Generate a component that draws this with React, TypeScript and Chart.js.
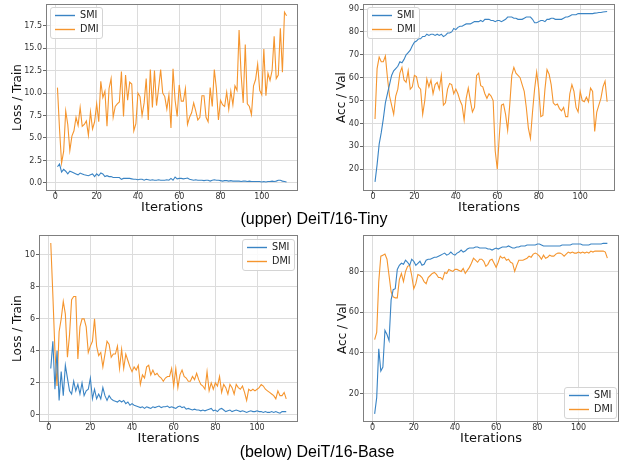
import React, { useEffect, useRef } from 'react';
import { Chart, registerables } from 'chart.js';

Chart.register(...registerables);

const FONT = '"DejaVu Sans", "Liberation Sans", Arial, sans-serif';

// ---------- Data: (upper) DeiT/16-Tiny ----------
const tinyLossSMI = [
  1.8, 2.1, 1.2, 1.5, 1.3, 1.0, 1.3, 1.2, 1.1, 1.0,
  0.9, 1.1, 1.0, 0.9, 0.85, 0.8, 0.9, 1.0, 0.7, 1.0,
  0.8, 1.1, 1.0, 0.7, 0.8, 0.7, 0.7, 0.6, 0.6, 0.6,
  0.6, 0.4, 0.5, 0.5, 0.5, 0.5, 0.45, 0.4, 0.4, 0.35,
  0.4, 0.4, 0.3, 0.4, 0.35, 0.3, 0.35, 0.3, 0.3, 0.35,
  0.3, 0.3, 0.3, 0.35, 0.3, 0.5, 0.3, 0.65, 0.45, 0.5,
  0.5, 0.45, 0.5, 0.55, 0.4, 0.35, 0.3, 0.35, 0.3, 0.3,
  0.3, 0.25, 0.3, 0.3, 0.2, 0.3, 0.35, 0.3, 0.3, 0.25,
  0.2, 0.25, 0.25, 0.2, 0.25, 0.2, 0.2, 0.2, 0.2, 0.15,
  0.2, 0.2, 0.15, 0.2, 0.15, 0.15, 0.15, 0.15, 0.15, 0.1,
  0.15, 0.1, 0.15, 0.15, 0.2, 0.15, 0.2, 0.3, 0.3, 0.2,
  0.15, 0.1,
];
const tinyLossDMI = [
  10.6, 6.0, 2.2, 3.5, 8.0, 6.5, 3.6, 5.2, 5.8, 7.3,
  6.4, 8.4, 6.3, 6.5, 6.9, 5.3, 7.9, 6.0, 6.8, 8.8,
  6.8, 11.3, 9.5, 10.2, 6.3, 10.5, 11.6, 7.3, 8.5, 8.8,
  9.0, 12.4, 7.4, 12.0, 9.2, 11.2, 11.0, 5.8, 6.6, 10.0,
  9.6, 7.5, 8.9, 11.6, 7.0, 12.6, 8.4, 12.5, 8.6, 10.5,
  12.6, 10.0, 9.6, 8.2, 9.8, 6.1, 12.7, 9.2, 7.4, 10.9,
  9.1, 9.1, 10.5, 6.5, 7.3, 7.8, 8.9, 8.0, 7.0, 7.3,
  9.7, 9.7, 7.3, 6.8, 10.6, 8.5, 12.6, 10.5, 7.0, 9.2,
  8.7, 8.5, 10.1, 8.2, 10.2, 8.7, 10.8, 10.3, 17.0, 12.0,
  8.9, 15.4, 8.8, 8.5, 7.6, 10.8, 11.5, 13.2, 10.3, 9.8,
  14.9, 9.7, 12.2, 11.4, 12.5, 16.3, 11.6, 12.0, 17.2, 12.3,
  19.0, 18.6,
];
const tinyAccSMI = [
  14.5, 22, 31, 36, 42, 49, 53, 57, 61, 63,
  64, 65, 67, 66.5, 68, 70, 71, 72, 74, 75.5,
  76, 77, 77, 78, 78, 79, 78.5, 79, 79, 78.5,
  79, 78.5, 79, 78, 78.5, 79.5, 79.5, 80, 81.5, 81,
  82, 82.5, 82.5, 83, 83.5, 83.5, 83.5, 84, 84.5, 84.5,
  84.5, 85, 84.5, 85.5, 85.5, 85.5, 85, 85, 84.5, 85,
  85, 84.5, 85, 85.5, 86.5, 86.5, 86.5, 86, 86, 85.5,
  85.5, 85.5, 86, 86.5, 86.5, 86.5, 85.5, 84, 84, 84.5,
  85, 85, 84.5, 85.5, 85.5, 86, 86, 85.5, 85.5, 85.5,
  85.5, 86, 86.5, 86.5, 87, 87.5, 87.5, 87.5, 88, 88,
  88, 88, 88, 88, 88, 88, 88.2, 88.3, 88.5, 88.5,
  88.7, 88.8, 88.9,
];
const tinyAccDMI = [
  42, 64, 69, 67, 67, 69.5, 60, 52, 48, 44,
  52, 55, 62, 64.5, 59, 58, 63, 55, 56, 61,
  60.5, 56, 55, 44, 50, 59.5, 56, 59, 53, 57,
  58, 55, 61, 48, 49, 55, 57.5, 57, 53, 55,
  53, 50, 48, 41.5, 51, 55.5, 50, 45, 47, 61,
  62, 56.5, 56, 53, 51, 53, 52, 50, 28, 20,
  35, 48, 48.5, 44, 37, 48, 61, 64.5, 62, 61,
  60, 57, 54, 47, 38, 33.5, 45, 55, 62.5, 55,
  43, 43.5, 55, 63.5, 61.5, 57, 49, 48, 48.5, 46.5,
  45.5, 47, 43, 43, 53, 57, 54, 47, 45, 54,
  50, 49.5, 51.5, 49.5, 55.5, 54, 36.5, 45, 48, 51,
  56, 58.5, 49.5,
];

// ---------- Data: (below) DeiT/16-Base ----------
const baseLossSMI = [
  2.9, 4.6, 1.6, 4.0, 0.9, 2.7, 1.2, 3.1, 2.3, 1.5,
  1.3, 2.1, 1.5, 1.9, 1.3, 2.0, 1.2, 1.5, 1.6, 2.3,
  1.0, 1.6, 1.0, 1.3, 1.0, 1.7, 1.2, 0.9, 1.2, 1.0,
  0.9, 0.85, 0.8, 0.9, 0.8, 0.9, 0.7, 0.8, 0.6, 0.7,
  0.6, 0.55, 0.5, 0.45, 0.5, 0.4, 0.5, 0.45, 0.4, 0.5,
  0.45, 0.5, 0.55, 0.45, 0.5, 0.5, 0.55, 0.45, 0.5, 0.45,
  0.4, 0.5, 0.55, 0.45, 0.5, 0.35, 0.4, 0.35, 0.3, 0.35,
  0.3, 0.3, 0.25, 0.3, 0.25, 0.3, 0.35, 0.4, 0.25, 0.3,
  0.2, 0.35, 0.4, 0.3, 0.2, 0.25, 0.3, 0.2, 0.25, 0.3,
  0.25, 0.2, 0.25, 0.2, 0.15, 0.2, 0.25, 0.2, 0.2, 0.25,
  0.2, 0.2, 0.15, 0.2, 0.15, 0.15, 0.2, 0.15, 0.2, 0.15,
  0.1, 0.2, 0.2, 0.2,
];
const baseLossDMI = [
  10.75, 7.5, 4.0, 1.8, 5.2, 6.0, 7.1, 6.3, 3.6, 5.0,
  7.2, 7.4, 7.4, 3.5, 5.5, 6.0, 6.0, 5.5, 3.9, 4.3,
  4.6, 6.0, 4.3, 3.7, 3.9, 3.0, 3.8, 4.6, 4.4, 3.6,
  3.8, 3.8, 4.3, 2.9, 4.1, 2.9, 3.8, 3.4, 3.0, 2.7,
  3.0, 2.8, 3.1, 1.9, 2.5, 2.3, 3.0, 3.1, 2.5, 2.8,
  2.5, 2.6, 2.4, 2.3, 2.1, 2.3, 2.4, 2.4, 2.9, 1.8,
  2.9, 1.7, 2.5, 2.8, 2.4, 2.3, 2.1, 2.1, 2.4, 2.2,
  2.6, 2.2, 1.9, 1.8, 1.6, 2.7, 1.5, 2.0, 1.6, 2.0,
  1.8, 2.4, 1.4, 1.9, 1.7, 1.3, 1.9, 1.7, 1.3, 1.9,
  1.7, 1.6, 1.8, 1.4, 0.9, 1.6, 1.5, 1.6, 1.5, 1.6,
  1.7, 1.9, 1.8, 1.6, 1.5, 1.4, 1.3, 1.2, 1.0, 1.5,
  1.2, 1.2, 1.4, 1.0,
];
const baseAccSMI = [
  10, 18, 42, 31, 33, 51, 49, 46, 66, 71,
  71.5, 81, 83, 84, 83.5, 85.5, 84.5, 83, 86, 85,
  83, 84, 85, 83, 83.5, 85.5, 86, 86, 86.5, 87,
  87, 87.5, 88, 88.5, 89, 88, 88.5, 89.5, 88.5, 88,
  89, 89.5, 90.5, 89.5, 90, 91, 91.5, 91.5, 91.5, 92,
  92, 91.5, 91.5, 91.5, 91.5, 91, 91, 90.5, 91, 91.5,
  91, 91.5, 92, 92, 92, 92.5, 92, 91.5, 91.5, 92,
  92, 92.5, 92.5, 92.5, 93, 93, 93, 93, 93, 93.5,
  93.5, 93, 92.5, 92.5, 92.5, 92.5, 92.5, 92.5, 92.5, 92.5,
  92.5, 93, 93, 93, 93, 93, 93.5, 93.5, 93.5, 93.5,
  93.5, 93, 93, 93, 93, 93.5, 93.5, 93.5, 93.5, 93.5,
  93.5, 93.8, 93.8, 93.8,
];
const baseAccDMI = [
  46.5, 50, 75, 87.5, 88, 88.5, 86, 78, 70, 67.5,
  67, 67, 76, 79, 75, 80, 82.5, 83, 78, 71.5,
  74, 78.5, 78, 77, 75, 74, 77, 78, 79, 79.5,
  78.5, 77, 77, 76, 79.5, 79, 81, 80.5, 80, 81,
  81, 80.5, 80, 81.5, 79, 80.5, 82, 84, 86.5, 85.5,
  84.5, 86, 86, 85, 82.5, 83.5, 85.5, 86, 84, 82,
  84.5, 87.5, 86.5, 87, 85.5, 86, 84.5, 84, 80, 83,
  85.5, 85.5, 85.5, 86, 86.5, 87.5, 87, 88.5, 89, 88.5,
  87.5, 86, 88, 86.5, 87, 88, 87.5, 87.5, 88.5, 89,
  89, 88.5, 87.5, 88.5, 89.5, 89, 89.5, 89, 89, 89.5,
  89, 89.5, 89, 89.5, 89, 90, 89.5, 90, 90, 90,
  90, 90, 89.5, 86.5,
];

const seriesNames = ['SMI', 'DMI'];
const seriesColors = ['#3a84c4', '#f5952e'];
const xTitle = 'Iterations';
const captions = ['(upper) DeiT/16-Tiny', '(below) DeiT/16-Base'];

type Panel = {
  series: number[][];
  yTitle: string;
  box: { l: number; t: number; r: number; b: number };
  yTitleX: number;
  xTitleY: number;
  x: [number, number];
  y: [number, number];
  yStep: number;
  yDec: number;
  legend: 'ul' | 'ur' | 'lr';
};

const panels: Panel[] = [
  { series: [tinyLossSMI, tinyLossDMI], yTitle: 'Loss / Train', box: { l: 46, t: 4, r: 298, b: 191 }, yTitleX: 18, xTitleY: 208, x: [-4.55, 117.55], y: [-0.9, 19.9], yStep: 2.5, yDec: 1, legend: 'ul' },
  { series: [tinyAccSMI, tinyAccDMI], yTitle: 'Acc / Val', box: { l: 363, t: 4, r: 615, b: 191 }, yTitleX: 342, xTitleY: 208, x: [-4.8, 116.8], y: [10.5, 92.2], yStep: 10, yDec: 0, legend: 'ul' },
  { series: [baseLossSMI, baseLossDMI], yTitle: 'Loss / Train', box: { l: 39, t: 235, r: 298, b: 422 }, yTitleX: 18, xTitleY: 439, x: [-4.65, 119.65], y: [-0.45, 11.25], yStep: 2, yDec: 0, legend: 'ur' },
  { series: [baseAccSMI, baseAccDMI], yTitle: 'Acc / Val', box: { l: 363, t: 235, r: 619, b: 422 }, yTitleX: 342.5, xTitleY: 439, x: [-4.65, 119.65], y: [6.0, 97.9], yStep: 20, yDec: 0, legend: 'lr' },
];

const W = 626;
const H = 466;
const Y_TITLE_SIZE = 12;
const X_TITLE_SIZE = 13;

const frameLegendPlugin = {
  id: 'frameLegend',
  afterDraw(chart: any, _args: any, opts: any) {
    const { ctx, chartArea: a } = chart;
    ctx.save();
    ctx.strokeStyle = '#7f7f7f';
    ctx.lineWidth = 1;
    ctx.strokeRect(a.left + 0.5, a.top + 0.5, a.right - a.left - 1, a.bottom - a.top - 1);

    const bw = 52;
    const bh = 31;
    let bx = a.left + 4;
    let by = a.top + 3;
    if (opts.corner === 'ur') { bx = a.right - 4 - bw; by = a.top + 4; }
    if (opts.corner === 'lr') { bx = a.right - 3 - bw; by = a.bottom - 4 - bh; }
    ctx.beginPath();
    if ((ctx as any).roundRect) (ctx as any).roundRect(bx + 0.5, by + 0.5, bw, bh, 2.5);
    else ctx.rect(bx + 0.5, by + 0.5, bw, bh);
    ctx.fillStyle = 'rgba(255,255,255,0.85)';
    ctx.fill();
    ctx.strokeStyle = '#d4d4d4';
    ctx.lineWidth = 1;
    ctx.stroke();

    ctx.font = `9.7px ${FONT}`;
    ctx.textBaseline = 'middle';
    ctx.textAlign = 'left';
    seriesNames.forEach((name, i) => {
      const ry = by + 8.5 + i * 14;
      ctx.strokeStyle = seriesColors[i];
      ctx.lineWidth = 1.4;
      ctx.beginPath();
      ctx.moveTo(bx + 5, ry);
      ctx.lineTo(bx + 25, ry);
      ctx.stroke();
      ctx.fillStyle = '#222';
      ctx.fillText(name, bx + 30, ry);
    });
    ctx.restore();
  },
};

function PanelChart({ p }: { p: Panel }) {
  const ref = useRef<HTMLCanvasElement>(null);
  useEffect(() => {
    if (!ref.current) return;
    const yHalf = (Y_TITLE_SIZE * 1.2) / 2;
    const xHalf = (X_TITLE_SIZE * 1.2) / 2;
    const padLeft = p.yTitleX - yHalf;
    const yWidth = p.box.l - padLeft;
    const xScaleBottom = p.xTitleY + xHalf;
    const xHeight = xScaleBottom - p.box.b;
    const datasets = p.series.map((vals, si) => ({
      label: seriesNames[si],
      data: vals.map((v, i) => ({ x: i + 1, y: v })),
      borderColor: seriesColors[si],
      backgroundColor: seriesColors[si],
      borderWidth: 1.1,
      pointRadius: 0,
      tension: 0,
      fill: false,
    }));
    const chart = new Chart(ref.current, {
      type: 'line',
      data: { datasets },
      options: {
        animation: false,
        responsive: true,
        maintainAspectRatio: false,
        events: [],
        layout: {
          autoPadding: false,
          padding: { left: padLeft, top: p.box.t, right: W - p.box.r, bottom: H - xScaleBottom },
        },
        plugins: {
          legend: { display: false },
          tooltip: { enabled: false },
          frameLegend: { corner: p.legend },
        } as any,
        scales: {
          x: {
            type: 'linear',
            min: p.x[0],
            max: p.x[1],
            ticks: {
              stepSize: 20,
              includeBounds: false,
              autoSkip: false,
              maxRotation: 0,
              padding: 0,
              color: '#333',
              font: { family: FONT, size: 8, lineHeight: 0.8 },
              callback: (v: any) => String(v),
            },
            grid: { color: '#dcdcdc', lineWidth: 1, tickLength: 3, tickColor: '#666' },
            border: { display: false },
            title: { display: true, text: xTitle, color: '#111', padding: 0, font: { family: FONT, size: X_TITLE_SIZE, lineHeight: 1.2 } },
            afterFit: (s: any) => { s.height = xHeight; s.paddingLeft = 0; s.paddingRight = 0; },
          },
          y: {
            type: 'linear',
            min: p.y[0],
            max: p.y[1],
            ticks: {
              stepSize: p.yStep,
              includeBounds: false,
              autoSkip: false,
              padding: 1,
              color: '#333',
              font: { family: FONT, size: 8, lineHeight: 1 },
              callback: (v: any) => Number(v).toFixed(p.yDec),
            },
            grid: { color: '#dcdcdc', lineWidth: 1, tickLength: 3, tickColor: '#666' },
            border: { display: false },
            title: { display: true, text: p.yTitle, color: '#111', padding: 0, font: { family: FONT, size: Y_TITLE_SIZE, lineHeight: 1.2 } },
            afterFit: (s: any) => { s.width = yWidth; s.paddingTop = 0; s.paddingBottom = 0; },
          },
        },
      } as any,
      plugins: [frameLegendPlugin as any],
    });
    return () => chart.destroy();
  }, [p]);
  return (
    <div style={{ position: 'absolute', left: 0, top: 0, width: W, height: H }}>
      <canvas ref={ref} />
    </div>
  );
}

export default function App() {
  useEffect(() => {
    document.body.style.margin = '0';
  }, []);
  const capStyle: React.CSSProperties = {
    position: 'absolute',
    width: 320,
    textAlign: 'center',
    fontFamily: '"Liberation Sans", Arial, sans-serif',
    fontSize: 16,
    lineHeight: '20px',
    color: '#000',
    whiteSpace: 'nowrap',
  };
  return (
    <div style={{ position: 'absolute', left: 0, top: 0, width: W, height: H, background: '#fff', overflow: 'hidden' }}>
      {panels.map((p, i) => (
        <PanelChart key={i} p={p} />
      ))}
      <div style={{ ...capStyle, left: 314 - 160, top: 209 }}>{captions[0]}</div>
      <div style={{ ...capStyle, left: 317 - 160, top: 442 }}>{captions[1]}</div>
    </div>
  );
}
